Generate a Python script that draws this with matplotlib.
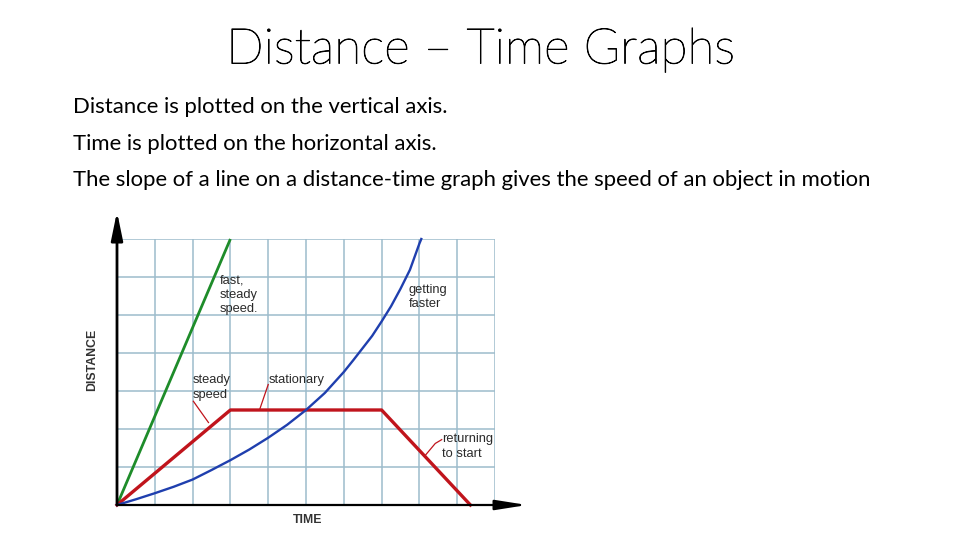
import numpy as np
import matplotlib.pyplot as plt
import matplotlib.patheffects as pe

# series (x in grid squares of time, y in grid squares of distance)
green_t = [0, 3]
green_d = [0, 7]
red_t = [0, 3, 7, 9.35]
red_d = [0, 2.5, 2.5, 0]
blue_t = [0, 0.5, 1, 1.5, 2, 2.5, 3, 3.5, 4, 4.5, 5, 5.5, 6, 6.25, 6.5, 6.75,
          7, 7.25, 7.5, 7.75, 8, 8.05]
blue_d = [0, 0.15, 0.31, 0.48, 0.67, 0.92, 1.18, 1.46, 1.77, 2.11, 2.5, 2.95,
          3.5, 3.81, 4.13, 4.45, 4.83, 5.23, 5.69, 6.19, 6.88, 7.0]

title = "Distance \u2013 Time Graphs"
bullets = ["Distance is plotted on the vertical axis.",
           "Time is plotted on the horizontal axis.",
           "The slope of a line on a distance-time graph gives the speed of an object in motion"]

grid_col = '#9dbccc'
txt_col = '#2a2a2a'
red = '#c0141c'

fig = plt.figure(figsize=(9.6, 5.4), dpi=100)
fig.patch.set_facecolor('white')

fig.text(0.5, 1 - 50/540, title, ha='center', va='center', fontsize=35.6,
         family='Lato', fontweight='light', color='black',
         path_effects=[pe.withStroke(linewidth=0.6, foreground='black')])
for i, line in enumerate(bullets):
    fig.text(73/960, 1 - (107 + 36.5*i)/540, line, ha='left', va='center',
             fontsize=15.9, family='Lato', color='black')

ax = fig.add_axes([117/960, 35/540, 378/960, 266/540])
ax.set_xlim(0, 10)
ax.set_ylim(0, 7)
ax.set_xticks(range(11))
ax.set_yticks(range(8))
ax.grid(True, color=grid_col, linewidth=1.1)
ax.tick_params(length=0, labelbottom=False, labelleft=False)
for s in ax.spines.values():
    s.set_visible(False)
ax.set_axisbelow(True)

# axes with arrow heads
ax.annotate('', xy=(0, 7.72), xytext=(0, 0), annotation_clip=False,
            arrowprops=dict(arrowstyle='-|>,head_length=1.7,head_width=0.35',
                            color='black', lw=2, shrinkA=0, shrinkB=0))
ax.annotate('', xy=(10.85, 0), xytext=(0, 0), annotation_clip=False,
            arrowprops=dict(arrowstyle='-|>,head_length=1.9,head_width=0.3',
                            color='black', lw=1.6, shrinkA=0, shrinkB=0))

ax.plot(green_t, green_d, color='#1e8c2a', lw=2.0, solid_capstyle='butt', clip_on=False)
ax.plot(red_t, red_d, color=red, lw=2.4, clip_on=False)
ax.plot(blue_t, blue_d, color='#1f3fae', lw=1.7, clip_on=False)

fs = 9.3
ls = 1.25
lab = dict(fontsize=fs, family='Liberation Sans', color=txt_col, ha='left',
           va='center', linespacing=ls)
ax.text(2.72, 5.53, "fast,\nsteady\nspeed.", **lab)
ax.text(7.72, 5.48, "getting\nfaster", **lab)
ax.text(2.01, 3.09, "steady\nspeed", **lab)
ax.text(4.02, 3.3, "stationary", **lab)
ax.text(8.6, 1.54, "returning\nto start", **lab)

# leader lines
ax.plot([2.02, 2.42], [2.73, 2.17], color=red, lw=0.9)
ax.plot([4.0, 3.78], [3.17, 2.53], color=red, lw=0.9)
ax.plot([8.59, 8.42, 8.15], [1.72, 1.62, 1.30], color=red, lw=0.9)

ax.text(-0.66, 3.82, "DISTANCE", rotation=90, fontsize=8.8, fontweight='bold',
        family='Liberation Sans', color='#333333', ha='center', va='center')
ax.text(5.05, -0.39, "TIME", fontsize=8.8, fontweight='bold',
        family='Liberation Sans', color='#333333', ha='center', va='center')

plt.savefig("out.png", dpi=100, facecolor='white')
